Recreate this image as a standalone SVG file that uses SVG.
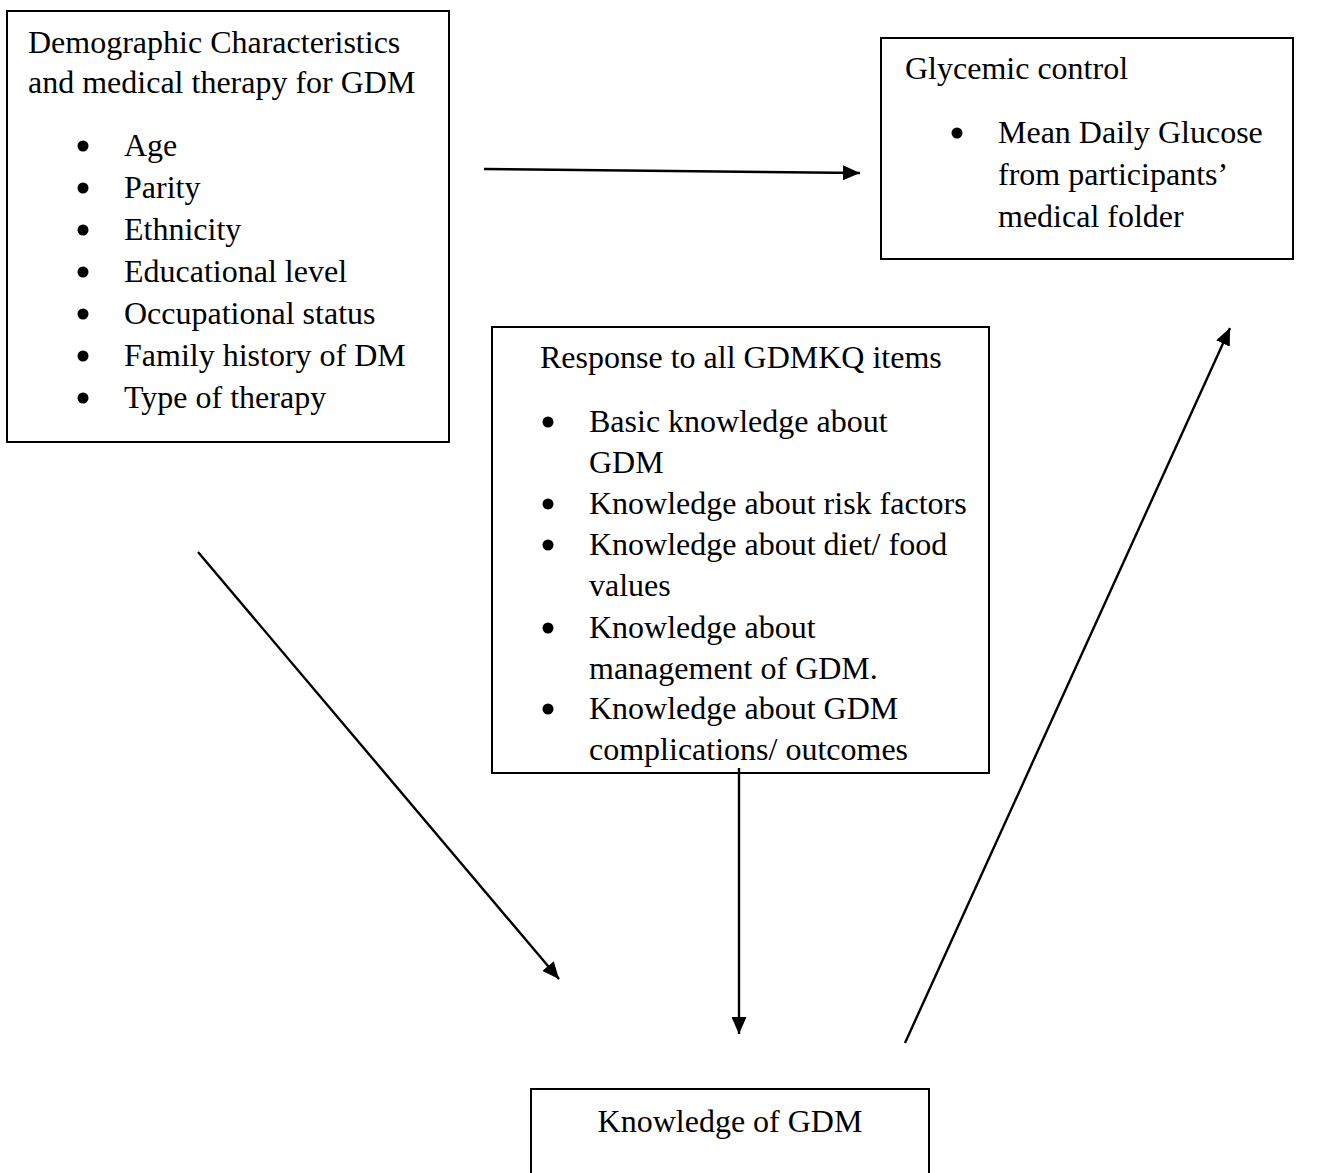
<svg xmlns="http://www.w3.org/2000/svg" width="1326" height="1173" viewBox="0 0 1326 1173">
<style>
.box{fill:#fff;stroke:#000;stroke-width:2}
text{font-family:"Liberation Serif","Times New Roman",serif;font-size:32px;fill:#000}
.con{stroke:#000;stroke-width:2.4;fill:none;marker-end:url(#ah)}
.bul{fill:#000}
</style>
<defs>
<marker id="ah" viewBox="0 0 10 10" refX="10" refY="5" markerUnits="userSpaceOnUse" markerWidth="17" markerHeight="15" orient="auto" preserveAspectRatio="none">
<path d="M0,0 L10,5 L0,10 z" fill="#000"/>
</marker>
</defs>
<rect width="1326" height="1173" fill="#fff"/>
<g id="demographics">
<rect class="box" x="7" y="11" width="442" height="431"/>
<text x="28" y="53">Demographic Characteristics</text>
<text x="28" y="93">and medical therapy for GDM</text>
<circle class="bul" cx="83" cy="146" r="5.5"/><text x="124" y="156">Age</text>
<circle class="bul" cx="83" cy="188" r="5.5"/><text x="124" y="198">Parity</text>
<circle class="bul" cx="83" cy="230" r="5.5"/><text x="124" y="240">Ethnicity</text>
<circle class="bul" cx="83" cy="272" r="5.5"/><text x="124" y="282">Educational level</text>
<circle class="bul" cx="83" cy="314" r="5.5"/><text x="124" y="324">Occupational status</text>
<circle class="bul" cx="83" cy="356" r="5.5"/><text x="124" y="366">Family history of DM</text>
<circle class="bul" cx="83" cy="398" r="5.5"/><text x="124" y="408">Type of therapy</text>
</g>
<g id="glycemic">
<rect class="box" x="881" y="38" width="412" height="221"/>
<text x="905" y="79">Glycemic control</text>
<circle class="bul" cx="957" cy="133" r="5.5"/><text x="998" y="143">Mean Daily Glucose</text>
<text x="998" y="185">from participants’</text>
<text x="998" y="227">medical folder</text>
</g>
<g id="response">
<rect class="box" x="492" y="327" width="497" height="446"/>
<text x="540" y="368">Response to all GDMKQ items</text>
<circle class="bul" cx="548" cy="422" r="5.5"/><text x="589" y="432">Basic knowledge about</text>
<text x="589" y="473">GDM</text>
<circle class="bul" cx="548" cy="504" r="5.5"/><text x="589" y="514">Knowledge about risk factors</text>
<circle class="bul" cx="548" cy="545" r="5.5"/><text x="589" y="555">Knowledge about diet/ food</text>
<text x="589" y="596">values</text>
<circle class="bul" cx="548" cy="628" r="5.5"/><text x="589" y="638">Knowledge about</text>
<text x="589" y="679">management of GDM.</text>
<circle class="bul" cx="548" cy="709" r="5.5"/><text x="589" y="719">Knowledge about GDM</text>
<text x="589" y="760">complications/ outcomes</text>
</g>
<g id="knowledge">
<rect class="box" x="531" y="1089" width="398" height="100"/>
<text x="730" y="1132" text-anchor="middle">Knowledge of GDM</text>
</g>
<g id="connectors">
<line class="con" x1="484" y1="169" x2="860" y2="173"/>
<line class="con" x1="198" y1="552" x2="559" y2="979"/>
<line class="con" x1="739" y1="768" x2="739" y2="1034"/>
<line class="con" x1="905" y1="1043" x2="1230" y2="328"/>
</g>
</svg>
